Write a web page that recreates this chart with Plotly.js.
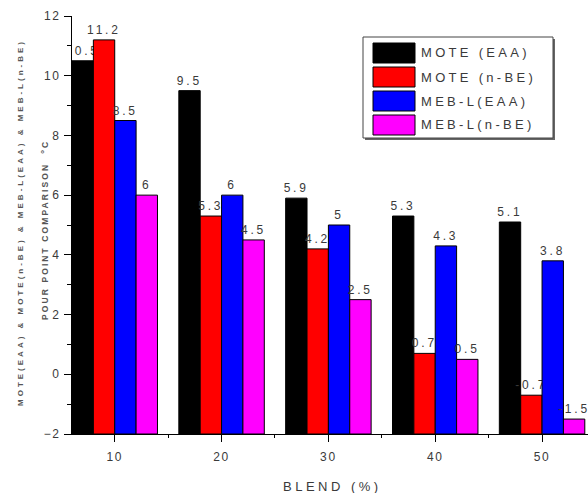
<!DOCTYPE html>
<html>
<head>
<meta charset="utf-8">
<script src="https://cdn.plot.ly/plotly-3.0.1.min.js"></script>
<style>
  html, body { margin:0; padding:0; background:#fff; }
  #chart { width:588px; height:493px; }
  .main-svg .xtick text, .main-svg .ytick text { letter-spacing: 1.6px; }
  .main-svg .bartext { letter-spacing: 2.8px; }
</style>
</head>
<body>
<div id="chart"></div>
<script>
// ---- data ----
const categories = [10, 20, 30, 40, 50];
const seriesNames = ['MOTE (EAA)', 'MOTE (n-BE)', 'MEB-L(EAA)', 'MEB-L(n-BE)'];
const moteEAA = [10.5, 9.5, 5.9, 5.3, 5.1];
const moteNBE = [11.2, 5.3, 4.2, 0.7, -0.7];
const mebEAA  = [8.5, 6, 5, 4.3, 3.8];
const mebNBE  = [6, 4.5, 2.5, 0.5, -1.5];
const yTickVals = [-2, 0, 2, 4, 6, 8, 10, 12];
const baseValue = -2;
const xTitle = 'BLEND (%)';
const yTitleOuter = 'MOTE(EAA) & MOTE(n-BE) & MEB-L(EAA) & MEB-L(n-BE)';
const yTitleInner = 'POUR POINT COMPARISON  <sup>o</sup>C';

// ---- styling ----
const colors = ['#000000', '#ff0000', '#0000ff', '#ff00ff'];
const allSeries = [moteEAA, moteNBE, mebEAA, mebNBE];
const W = 588, H = 493;
const M = {l: 72, r: 0, t: 16, b: 59};
const plotW = W - M.l - M.r, plotH = H - M.t - M.b;
const px = x => (x - M.l) / plotW;
const py = y => (H - M.b - y) / plotH;
const txtColor = '#3a3a3a';
const font = 'Liberation Sans, Arial, sans-serif';
const spaced = (t, s) => '<span style="letter-spacing:' + s + 'px">' + t + '</span>';

const traces = allSeries.map((vals, i) => ({
  type: 'bar',
  name: seriesNames[i],
  x: categories,
  y: vals.map(v => v - baseValue),
  base: baseValue,
  text: vals.map(v => String(v)),
  textposition: 'outside',
  constraintext: 'none',
  cliponaxis: true,
  textfont: {family: font, size: 12, color: txtColor},
  marker: {color: colors[i], line: {color: '#000', width: 1}},
  showlegend: false,
  hoverinfo: 'skip'
}));

const shapes = [];
const annotations = [];

// custom legend box
const lb = {x0: 363, x1: 553, y0: 37, y1: 138};
shapes.push({type:'rect', xref:'paper', yref:'paper', x0: px(lb.x0+2), x1: px(lb.x1+2), y0: py(lb.y0+2), y1: py(lb.y1+2), fillcolor:'#666', line:{width:0}, layer:'above'});
shapes.push({type:'rect', xref:'paper', yref:'paper', x0: px(lb.x0), x1: px(lb.x1), y0: py(lb.y0), y1: py(lb.y1), fillcolor:'#fff', line:{color:'#444', width:1}, layer:'above'});
seriesNames.forEach((name, i) => {
  const top = 43 + 24 * i;
  shapes.push({type:'rect', xref:'paper', yref:'paper', x0: px(373), x1: px(415), y0: py(top), y1: py(top + 20), fillcolor: colors[i], line:{color:'#000', width:1}, layer:'above'});
  annotations.push({xref:'paper', yref:'paper', x: px(419), y: py(top + 10), xanchor:'left', yanchor:'middle', showarrow:false,
    text: spaced(name, 3.3), font:{family: font, size: 13, color: txtColor}});
});

// axis titles
annotations.push({xref:'paper', yref:'paper', x: px(20), y: py(223), xanchor:'center', yanchor:'middle', textangle:-90, showarrow:false,
  text: '<b>' + spaced(yTitleOuter, 3) + '</b>', font:{family: font, size: 8, color:'#555'}});
annotations.push({xref:'paper', yref:'paper', x: px(44), y: py(230), xanchor:'center', yanchor:'middle', textangle:-90, showarrow:false,
  text: '<b>' + spaced(yTitleInner, 2.1) + '</b>', font:{family: font, size: 8.5, color:'#555'}});
annotations.push({xref:'paper', yref:'paper', x: px(332), y: py(486), xanchor:'center', yanchor:'middle', showarrow:false,
  text: spaced(xTitle, 3.5), font:{family: font, size: 13, color: txtColor}});

const layout = {
  width: W, height: H,
  margin: M,
  paper_bgcolor: '#fff', plot_bgcolor: '#fff',
  barmode: 'group', bargap: 0.2, bargroupgap: 0,
  font: {family: font, size: 12, color: txtColor},
  xaxis: {
    range: [6, 54.3], tickmode: 'array', tickvals: categories, ticktext: categories.map(String),
    ticks: 'outside', ticklen: 7, tickcolor: '#000', tickwidth: 1, ticklabelstandoff: 5,
    minor: {tickmode: 'linear', tick0: 5, dtick: 5, ticks: 'outside', ticklen: 3, tickcolor: '#000'},
    showline: true, linecolor: '#000', linewidth: 1, showgrid: false, zeroline: false,
    tickfont: {family: font, size: 12, color: txtColor}, fixedrange: true
  },
  yaxis: {
    range: [-2, 12], tickmode: 'array', tickvals: yTickVals,
    ticks: 'outside', ticklen: 7, tickcolor: '#000', tickwidth: 1, ticklabelstandoff: 1,
    minor: {tickmode: 'linear', tick0: -1, dtick: 1, ticks: 'outside', ticklen: 4, tickcolor: '#000'},
    showline: true, linecolor: '#000', linewidth: 1, showgrid: false, zeroline: false,
    tickfont: {family: font, size: 12, color: txtColor}, fixedrange: true
  },
  shapes: shapes,
  annotations: annotations,
  showlegend: false
};

Plotly.newPlot('chart', traces, layout, {staticPlot: true, displayModeBar: false});
</script>
</body>
</html>
